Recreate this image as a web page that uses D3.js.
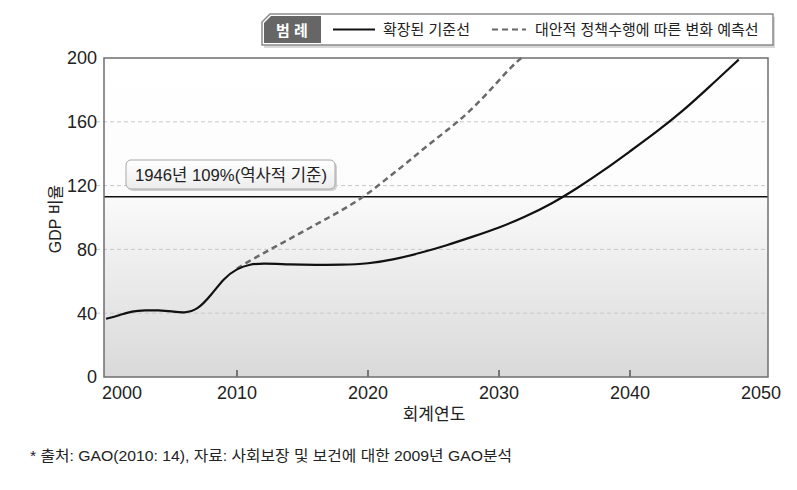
<!DOCTYPE html>
<html>
<head>
<meta charset="utf-8">
<script src="https://cdn.jsdelivr.net/npm/d3@7"></script>
<style>
  body { margin: 0; background: #fff; }
  text { font-family: "Liberation Sans", "Noto Sans CJK KR", sans-serif; }
</style>
</head>
<body>
<script>
// extended baseline (solid)
var baseYears = [2000, 2001, 2002, 2003, 2004, 2005, 2006, 2007, 2008, 2009, 2010, 2011, 2012, 2014, 2016, 2018, 2020, 2022, 2024, 2026, 2028, 2030, 2032, 2034, 2036, 2038, 2040, 2042, 2044, 2046, 2048.3];
var baseValues = [36.5, 38.6, 41.4, 41.9, 41.8, 41.2, 40, 42.2, 51, 62, 68, 70.8, 71.2, 70.6, 70.3, 70.3, 71, 73.6, 77.8, 82.5, 88, 93.5, 100.5, 108.5, 118.5, 129.5, 141.5, 153.5, 166.5, 181.5, 199];

// alternative policy projection (dashed)
var altYears = [2010, 2011, 2012, 2013, 2014, 2015, 2016, 2017, 2018, 2019, 2020, 2021, 2022, 2023, 2024, 2025, 2026, 2027, 2028, 2029, 2030, 2031, 2031.7];
var altValues = [68, 73, 77.5, 82, 86.5, 91, 95.5, 100, 104.5, 109.5, 115, 121.5, 128, 134.5, 141.5, 148, 154.5, 161, 168.5, 177, 186, 195, 200];

var historicLevel = 113;
var xTicks = [2000, 2010, 2020, 2030, 2040, 2050];
var yTicks = [0, 40, 80, 120, 160, 200];
var legendLabels = ["확장된 기준선", "대안적 정책수행에 따른 변화 예측선"];

var svg = d3.select("body").append("svg")
  .attr("width", 797)
  .attr("height", 490);

var defs = svg.append("defs");
var grad = defs.append("linearGradient")
  .attr("id", "bg").attr("x1", 0).attr("y1", 0).attr("x2", 0).attr("y2", 1);
grad.append("stop").attr("offset", "0%").attr("stop-color", "#ffffff");
grad.append("stop").attr("offset", "40%").attr("stop-color", "#fcfcfc");
grad.append("stop").attr("offset", "100%").attr("stop-color", "#d9d9d9");

var boxGrad = defs.append("linearGradient")
  .attr("id", "boxbg").attr("x1", 0).attr("y1", 0).attr("x2", 0).attr("y2", 1);
boxGrad.append("stop").attr("offset", "0%").attr("stop-color", "#ffffff");
boxGrad.append("stop").attr("offset", "100%").attr("stop-color", "#ececec");

var pLeft = 104, pRight = 768, pTop = 58, pBottom = 377;

var x = d3.scaleLinear().domain([2000, 2050]).range([106, 761]);
var y = d3.scaleLinear().domain([0, 200]).range([pBottom, pTop]);

// plot background
svg.append("rect")
  .attr("x", pLeft).attr("y", pTop)
  .attr("width", pRight - pLeft).attr("height", pBottom - pTop)
  .style("fill", "url(#bg)");

// dashed grid lines
svg.selectAll("line.grid")
  .data(yTicks.filter(function(d) { return d > 0 && d < 200; }))
  .enter()
  .append("line")
  .attr("class", "grid")
  .attr("x1", pLeft - 8).attr("x2", pRight)
  .attr("y1", function(d) { return y(d); })
  .attr("y2", function(d) { return y(d); })
  .style("stroke", "#c8c8c8")
  .style("stroke-width", 1)
  .style("stroke-dasharray", "4,3");

// historic level line
svg.append("line")
  .attr("x1", pLeft).attr("x2", pRight)
  .attr("y1", y(historicLevel)).attr("y2", y(historicLevel))
  .style("stroke", "#111").style("stroke-width", 1.5);

// x ticks inside
svg.selectAll("line.xtick")
  .data(xTicks.slice(1, -1))
  .enter()
  .append("line")
  .attr("class", "xtick")
  .attr("x1", function(d) { return x(d); })
  .attr("x2", function(d) { return x(d); })
  .attr("y1", pBottom).attr("y2", pBottom - 7)
  .style("stroke", "#555").style("stroke-width", 1.5);

// frame
svg.append("rect")
  .attr("x", pLeft).attr("y", pTop)
  .attr("width", pRight - pLeft).attr("height", pBottom - pTop)
  .style("fill", "none").style("stroke", "#6e6e6e").style("stroke-width", 1.5);

// label box
var lb = svg.append("g");
lb.append("rect")
  .attr("x", 128).attr("y", 162).attr("width", 209).attr("height", 29).attr("rx", 5)
  .style("fill", "#d0d0d0");
lb.append("rect")
  .attr("x", 126).attr("y", 160).attr("width", 209).attr("height", 29).attr("rx", 5)
  .style("fill", "url(#boxbg)").style("stroke", "#a8a8a8").style("stroke-width", 1);
lb.append("text")
  .attr("x", 135).attr("y", 181)
  .attr("font-size", 16.5).style("fill", "#222")
  .attr("textLength", 192).attr("lengthAdjust", "spacingAndGlyphs")
  .text("1946년 109%(역사적  기준)");

var line = d3.line()
  .x(function(d) { return x(d[0]); })
  .y(function(d) { return y(d[1]); })
  .curve(d3.curveBasis);

svg.append("path")
  .datum(d3.zip(altYears, altValues))
  .attr("d", line)
  .style("fill", "none").style("stroke", "#6a6a6a")
  .style("stroke-width", 2.5).style("stroke-dasharray", "6,4");

svg.append("path")
  .datum(d3.zip(baseYears, baseValues))
  .attr("d", line)
  .style("fill", "none").style("stroke", "#111")
  .style("stroke-width", 2.2);

// axis labels
svg.selectAll("text.ytick")
  .data(yTicks)
  .enter()
  .append("text")
  .attr("class", "ytick")
  .attr("x", 97)
  .attr("y", function(d) { return y(d); })
  .attr("dy", "0.36em")
  .attr("text-anchor", "end")
  .attr("font-size", 18)
  .style("fill", "#222")
  .text(function(d) { return d; });

svg.selectAll("text.xtick")
  .data(xTicks)
  .enter()
  .append("text")
  .attr("class", "xtick")
  .attr("x", function(d, i) { return i === 0 ? x(d) + 16 : x(d); })
  .attr("y", 399)
  .attr("text-anchor", "middle")
  .attr("font-size", 18)
  .style("fill", "#222")
  .text(function(d) { return d; });

svg.append("text")
  .attr("transform", "translate(61,219) rotate(-90)")
  .attr("text-anchor", "middle")
  .attr("font-size", 16)
  .style("fill", "#222")
  .text("GDP 비율");

svg.append("text")
  .attr("x", 434).attr("y", 420)
  .attr("text-anchor", "middle")
  .attr("font-size", 17)
  .style("fill", "#222")
  .text("회계연도");

// legend
var lg = svg.append("g");
lg.append("path")
  .attr("d", "M266,17 L775,17 L775,48 L264,48 L264,25 Z")
  .style("fill", "#d8d8d8");
lg.append("path")
  .attr("d", "M270,14 L773,14 L773,45 L262,45 L262,22 Z")
  .style("fill", "#fff").style("stroke", "#8a8a8a").style("stroke-width", 1.5);
lg.append("path")
  .attr("d", "M271,16 L321,16 L321,43 L264,43 L264,23 Z")
  .style("fill", "#666");
lg.append("text")
  .attr("x", 292).attr("y", 35.5)
  .attr("text-anchor", "middle")
  .attr("font-size", 15).attr("font-weight", "bold")
  .style("fill", "#fff")
  .text("범 례");
lg.append("line")
  .attr("x1", 333).attr("x2", 375).attr("y1", 29.5).attr("y2", 29.5)
  .style("stroke", "#111").style("stroke-width", 2);
lg.append("line")
  .attr("x1", 492).attr("x2", 526).attr("y1", 29.5).attr("y2", 29.5)
  .style("stroke", "#666").style("stroke-width", 2).style("stroke-dasharray", "6,4");
lg.selectAll("text.leg")
  .data(legendLabels)
  .enter()
  .append("text")
  .attr("class", "leg")
  .attr("x", function(d, i) { return i === 0 ? 383 : 535; })
  .attr("y", 35)
  .attr("font-size", 15)
  .style("fill", "#222")
  .text(function(d) { return d; });

// source note
svg.append("text")
  .attr("x", 30).attr("y", 461)
  .attr("font-size", 15)
  .attr("textLength", 482).attr("lengthAdjust", "spacingAndGlyphs")
  .style("fill", "#222")
  .text("* 출처: GAO(2010: 14), 자료: 사회보장 및 보건에 대한 2009년 GAO분석");
</script>
</body>
</html>
